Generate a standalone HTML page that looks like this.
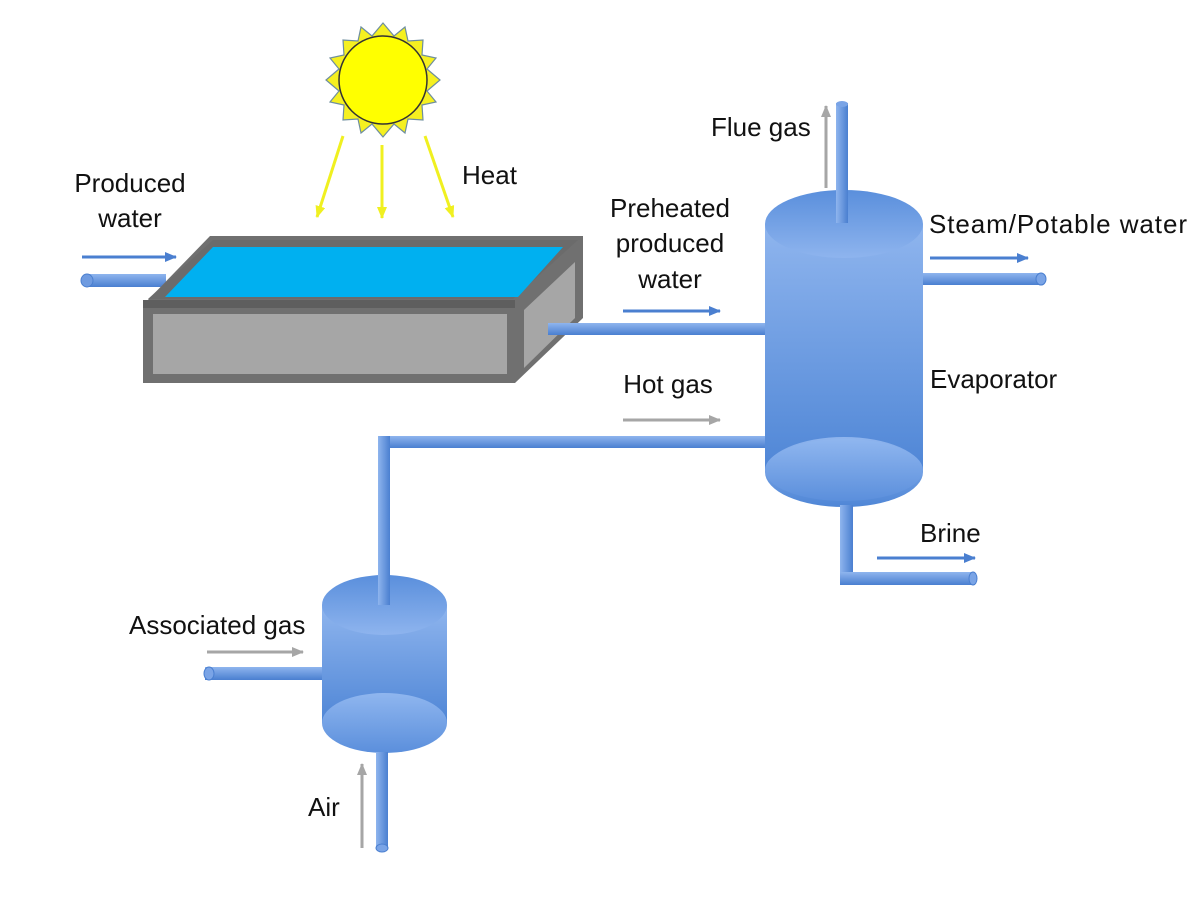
<!DOCTYPE html>
<html><head><meta charset="utf-8"><style>
html,body{margin:0;padding:0;background:#fff;}
svg{display:block;}
text{font-family:"Liberation Sans",sans-serif;font-size:26px;fill:#111;}
</style></head><body>
<svg width="1200" height="900" viewBox="0 0 1200 900" xmlns="http://www.w3.org/2000/svg">
<defs>
<linearGradient id="body" x1="0" y1="0" x2="0" y2="1">
<stop offset="0" stop-color="#8fb5ee"/><stop offset="1" stop-color="#4f86d6"/></linearGradient>
<linearGradient id="ell" x1="0" y1="0" x2="0" y2="1">
<stop offset="0" stop-color="#5a8fdc"/><stop offset="1" stop-color="#8eb4ee"/></linearGradient>
<linearGradient id="ell2" x1="0" y1="0" x2="0" y2="1">
<stop offset="0" stop-color="#8fb6ef"/><stop offset="1" stop-color="#5b8fdc"/></linearGradient>
<linearGradient id="ph" x1="0" y1="0" x2="0" y2="1">
<stop offset="0" stop-color="#8fb5ee"/><stop offset="1" stop-color="#4a7fd0"/></linearGradient>
<linearGradient id="pv" x1="0" y1="0" x2="1" y2="0">
<stop offset="0" stop-color="#8fb5ee"/><stop offset="1" stop-color="#4a7fd0"/></linearGradient>
<marker id="ab" markerUnits="userSpaceOnUse" viewBox="0 0 12 10" markerWidth="12" markerHeight="10" refX="11" refY="5" orient="auto"><path d="M0,0 L12,5 L0,10z" fill="#4a7fd0"/></marker>
<marker id="ag" markerUnits="userSpaceOnUse" viewBox="0 0 12 10" markerWidth="12" markerHeight="10" refX="11" refY="5" orient="auto"><path d="M0,0 L12,5 L0,10z" fill="#a6a6a6"/></marker>
<marker id="ay" markerUnits="userSpaceOnUse" viewBox="0 0 12 10" markerWidth="12" markerHeight="10" refX="11" refY="5" orient="auto"><path d="M0,0 L12,5 L0,10z" fill="#f0f020"/></marker>
</defs>

<!-- Sun -->
<g transform="translate(383,80)" fill="#f5f020" stroke="#6e8e9e" stroke-width="1.2">
<polygon points="0,-57 11,-44 22,-53 25,-39 40,-40 39,-25 53,-22 44,-11 57,0 44,11 53,22 39,25 40,40 25,39 22,53 11,44 0,57 -11,44 -22,53 -25,39 -40,40 -39,25 -53,22 -44,11 -57,0 -44,-11 -53,-22 -39,-25 -40,-40 -25,-39 -22,-53 -11,-44"/>
<circle r="44" fill="#ffff00" stroke="#333" stroke-width="1.5"/>
</g>
<g stroke="#f0f020" stroke-width="3" marker-end="url(#ay)">
<line x1="343" y1="136" x2="317" y2="217"/>
<line x1="382" y1="145" x2="382" y2="218"/>
<line x1="425" y1="136" x2="453" y2="217"/>
</g>
<text x="462" y="184">Heat</text>

<!-- Produced water -->
<text x="130" y="192" text-anchor="middle">Produced</text>
<text x="130" y="227" text-anchor="middle">water</text>
<line x1="82" y1="257" x2="176" y2="257" stroke="#4a7fd0" stroke-width="3" marker-end="url(#ab)"/>
<rect x="86" y="274" width="80" height="13" fill="url(#ph)"/>
<ellipse cx="87" cy="280.5" rx="6" ry="6.5" fill="#6f9be0" stroke="#4a7fd0"/>

<!-- Tray -->
<polygon points="143,305 210,236 583,236 583,318 515,383 143,383" fill="#707070"/>
<polygon points="148,299 213,240 578,240 513,299" fill="#6b6b6b"/>
<polygon points="165,297 213,247 563,247 518,297" fill="#00b0f0"/>
<rect x="153" y="314" width="354" height="60" fill="#a6a6a6"/>
<polygon points="524,310 575,262 575,318 524,368" fill="#a6a6a6"/>
<rect x="143" y="300" width="372" height="8" fill="#5e5e5e"/>

<!-- Preheated -->
<rect x="548" y="323" width="219" height="12" fill="url(#ph)"/>
<text x="670" y="217" text-anchor="middle">Preheated</text>
<text x="670" y="252" text-anchor="middle">produced</text>
<text x="670" y="288" text-anchor="middle">water</text>
<line x1="623" y1="311" x2="720" y2="311" stroke="#4a7fd0" stroke-width="3" marker-end="url(#ab)"/>

<!-- Hot gas -->
<text x="668" y="393" text-anchor="middle">Hot gas</text>
<line x1="623" y1="420" x2="720" y2="420" stroke="#a6a6a6" stroke-width="3" marker-end="url(#ag)"/>
<rect x="378" y="436" width="389" height="12" fill="url(#ph)"/>
<rect x="378" y="436" width="12" height="170" fill="url(#pv)"/>

<!-- Evaporator -->
<rect x="765" y="224" width="158" height="248" fill="url(#body)"/>
<ellipse cx="844" cy="472" rx="79" ry="35" fill="url(#body)"/>
<ellipse cx="844" cy="470" rx="79" ry="31" fill="url(#ell2)"/>
<ellipse cx="844" cy="224" rx="79" ry="34" fill="url(#ell)"/>
<rect x="836" y="103" width="12" height="120" fill="url(#pv)"/>
<ellipse cx="842" cy="104" rx="6" ry="3" fill="#7aa4e6"/>
<line x1="826" y1="188" x2="826" y2="106" stroke="#a6a6a6" stroke-width="3" marker-end="url(#ag)"/>
<text x="711" y="136">Flue gas</text>
<rect x="923" y="273" width="120" height="12" fill="url(#ph)"/>
<ellipse cx="1041" cy="279" rx="5" ry="6" fill="#7aa4e6" stroke="#4a7fd0"/>
<line x1="930" y1="258" x2="1028" y2="258" stroke="#4a7fd0" stroke-width="3" marker-end="url(#ab)"/>
<text x="929" y="233" textLength="258">Steam/Potable water</text>
<text x="930" y="388">Evaporator</text>
<rect x="840" y="505" width="13" height="78" fill="url(#pv)"/>
<rect x="840" y="572" width="135" height="13" fill="url(#ph)"/>
<ellipse cx="973" cy="578.5" rx="4" ry="6.5" fill="#7aa4e6" stroke="#4a7fd0"/>
<line x1="877" y1="558" x2="975" y2="558" stroke="#4a7fd0" stroke-width="3" marker-end="url(#ab)"/>
<text x="920" y="542">Brine</text>

<!-- Combustor -->
<rect x="322" y="605" width="125" height="118" fill="url(#body)"/>
<ellipse cx="384.5" cy="723" rx="62.5" ry="30" fill="url(#ell2)"/>
<ellipse cx="384.5" cy="605" rx="62.5" ry="30" fill="url(#ell)"/>
<rect x="378" y="560" width="12" height="45" fill="url(#pv)"/>
<rect x="205" y="667" width="117" height="13" fill="url(#ph)"/>
<ellipse cx="209" cy="673.5" rx="5" ry="6.5" fill="#7aa4e6" stroke="#4a7fd0"/>
<line x1="207" y1="652" x2="303" y2="652" stroke="#a6a6a6" stroke-width="3" marker-end="url(#ag)"/>
<text x="129" y="634">Associated gas</text>
<rect x="376" y="752" width="12" height="97" fill="url(#pv)"/>
<ellipse cx="382" cy="848" rx="6" ry="4" fill="#7aa4e6" stroke="#4a7fd0"/>
<line x1="362" y1="848" x2="362" y2="764" stroke="#a6a6a6" stroke-width="3" marker-end="url(#ag)"/>
<text x="308" y="816">Air</text>
</svg>
</body></html>
